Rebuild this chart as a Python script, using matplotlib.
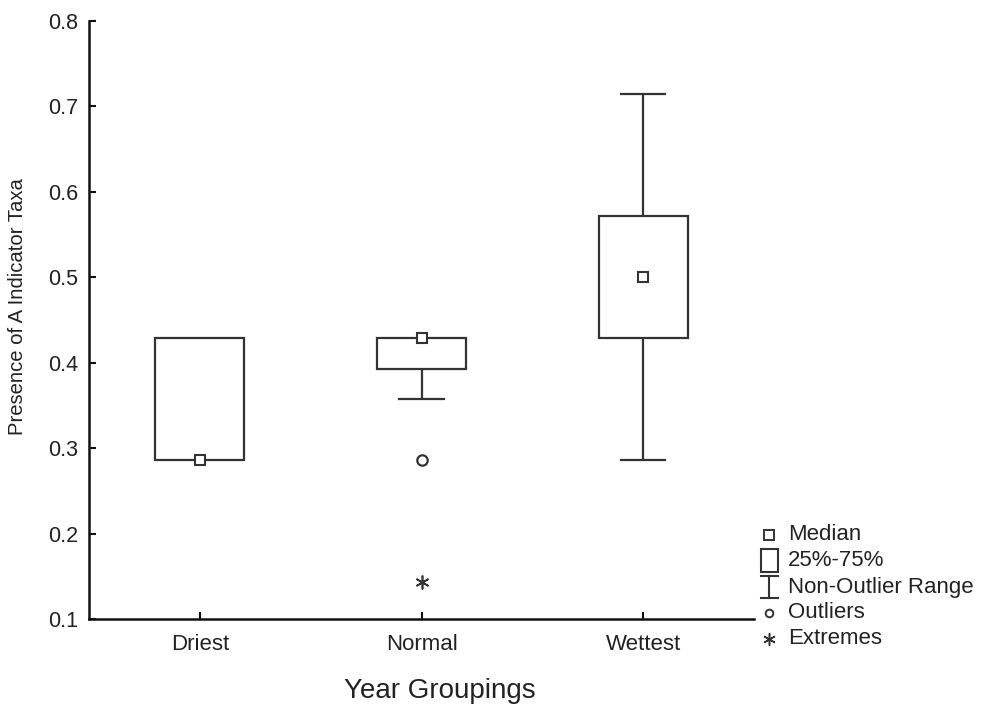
import matplotlib
matplotlib.use("Agg")
import matplotlib.pyplot as plt
from matplotlib.patches import Rectangle
from matplotlib.lines import Line2D

plt.rcParams['font.family'] = ['Liberation Sans', 'DejaVu Sans']

# ---- data ----
categories = ["Driest", "Normal", "Wettest"]
medians = [0.2857, 0.4286, 0.5000]
q1 = [0.2857, 0.3929, 0.4286]
q3 = [0.4286, 0.4286, 0.5714]
whisker_low = [0.2857, 0.3571, 0.2857]
whisker_high = [0.4286, 0.4286, 0.7143]
outlier_cat = ["Normal"]
outlier_vals = [0.2857]
extreme_cat = ["Normal"]
extreme_vals = [0.1429]
yticks = [0.1, 0.2, 0.3, 0.4, 0.5, 0.6, 0.7, 0.8]
legend_labels = ["Median", "25%-75%", "Non-Outlier Range", "Outliers", "Extremes"]

LC = "#333333"
LW = 1.6
BOX_W = 0.40
CAP_W = 0.20

fig = plt.figure(figsize=(9.84, 7.09), dpi=100)
ax = fig.add_axes([89/984, 1-619/709, (754-89)/984, (619-21)/709])

xpos = list(range(len(categories)))
for i in xpos:
    x = xpos[i]
    # whiskers
    if whisker_high[i] > q3[i]:
        ax.plot([x, x], [q3[i], whisker_high[i]], color=LC, lw=LW, solid_capstyle='butt')
        ax.plot([x - CAP_W/2, x + CAP_W/2], [whisker_high[i]]*2, color=LC, lw=LW)
    if whisker_low[i] < q1[i]:
        ax.plot([x, x], [whisker_low[i], q1[i]], color=LC, lw=LW, solid_capstyle='butt')
        ax.plot([x - CAP_W/2, x + CAP_W/2], [whisker_low[i]]*2, color=LC, lw=LW)
    # box
    ax.add_patch(Rectangle((x - BOX_W/2, q1[i]), BOX_W, q3[i]-q1[i],
                           facecolor='white', edgecolor=LC, lw=LW, zorder=2))
    # median
    ax.plot([x], [medians[i]], marker='s', ms=7, mfc='white', mec=LC, mew=1.5, zorder=3)

for c, v in zip(outlier_cat, outlier_vals):
    ax.plot([categories.index(c)], [v], marker='o', ms=7.5, mfc='white', mec=LC, mew=1.6, ls='none', zorder=3)
for c, v in zip(extreme_cat, extreme_vals):
    ax.plot([categories.index(c)], [v], marker=(6, 2, 0), ms=10, color=LC, mew=1.2, ls='none', zorder=3)

ax.set_xlim(-0.5, 2.5)
ax.set_ylim(0.1, 0.8)
ax.set_yticks(yticks)
ax.set_yticklabels([f"{t:.1f}" for t in yticks])
ax.set_xticks(xpos)
ax.set_xticklabels(categories)
for s in ['top', 'right']:
    ax.spines[s].set_visible(False)
for s in ['left', 'bottom']:
    ax.spines[s].set_linewidth(1.8)
    ax.spines[s].set_color('#111111')
ax.tick_params(axis='both', direction='in', length=5, width=1.5, color='#111111', labelcolor='#222222')
ax.tick_params(axis='y', pad=8, labelsize=15.5)
ax.tick_params(axis='x', pad=11, labelsize=16)

ax.set_xlabel("Year Groupings", fontsize=20, color='#222222')
ax.xaxis.set_label_coords(0.527, -0.098)
ax.set_ylabel("Presence of A Indicator Taxa", fontsize=14.6, color='#222222')
ax.yaxis.set_label_coords(-0.093, 0.523)

# ---- legend (custom, figure coords) ----
def fx(px):
    return px / 984
def fy(py):
    return 1 - py / 709

leg_y = [535, 561, 587, 613, 639]
mx = 769
tx = 788
for lab, y in zip(legend_labels, leg_y):
    fig.text(fx(tx), fy(y), lab, fontsize=16, color='#222222', va='center', ha='left')

# median symbol
fig.add_artist(Line2D([fx(mx)], [fy(leg_y[0])], marker='s', ms=6.5, mfc='white', mec=LC, mew=1.4))
# box symbol
fig.add_artist(Rectangle((fx(761), fy(572)), fx(778)-fx(761), fy(549)-fy(572),
                         facecolor='white', edgecolor=LC, lw=1.5, transform=fig.transFigure))
# whisker symbol
fig.add_artist(Line2D([fx(mx), fx(mx)], [fy(576), fy(598)], color=LC, lw=1.5))
fig.add_artist(Line2D([fx(761), fx(778)], [fy(576), fy(576)], color=LC, lw=1.5))
fig.add_artist(Line2D([fx(761), fx(778)], [fy(598), fy(598)], color=LC, lw=1.5))
# outlier symbol
fig.add_artist(Line2D([fx(mx)], [fy(leg_y[3])], marker='o', ms=5.5, mfc='white', mec=LC, mew=1.4))
# extreme symbol
fig.add_artist(Line2D([fx(mx)], [fy(leg_y[4])], marker=(6, 2, 0), ms=9, color=LC, mew=1.1))

fig.savefig("out.png", dpi=100)
